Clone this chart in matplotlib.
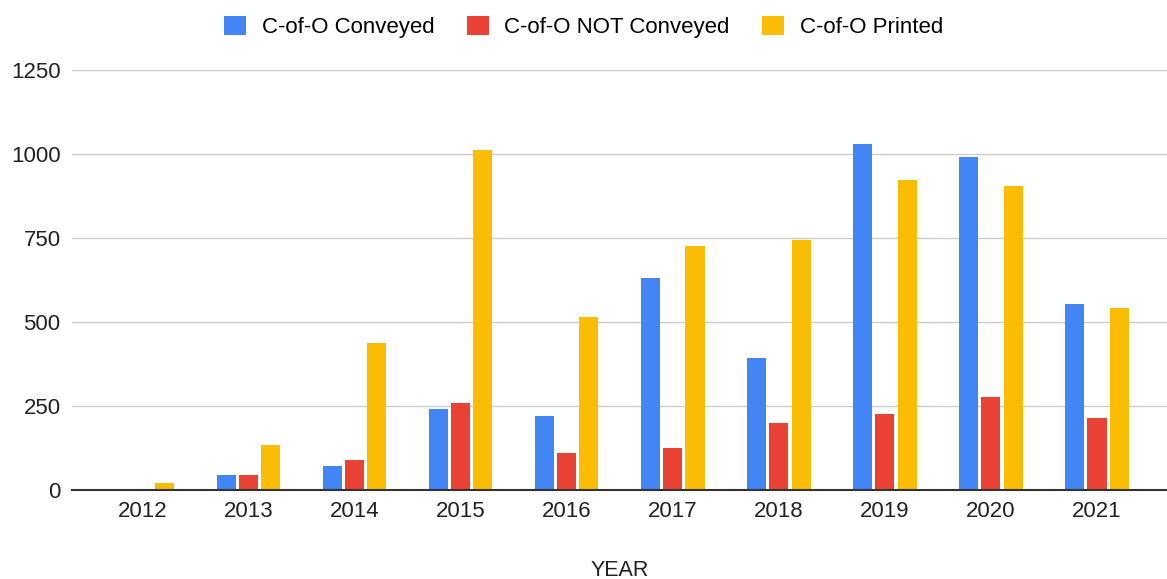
import matplotlib
matplotlib.use("Agg")
import matplotlib.pyplot as plt
import numpy as np

years = ["2012", "2013", "2014", "2015", "2016", "2017", "2018", "2019", "2020", "2021"]
conveyed = [0, 44, 72, 242, 219, 632, 392, 1029, 990, 554]
not_conveyed = [0, 44, 89, 258, 109, 124, 198, 225, 276, 214]
printed = [22, 134, 437, 1011, 515, 726, 744, 922, 906, 542]
series_names = ["C-of-O Conveyed", "C-of-O NOT Conveyed", "C-of-O Printed"]
colors = ["#4285F4", "#EA4335", "#FBBC04"]
yticks = [0, 250, 500, 750, 1000, 1250]

plt.rcParams['font.family'] = ['Liberation Sans', 'DejaVu Sans']

fig = plt.figure(figsize=(11.67, 5.79), dpi=100)
ax = fig.add_axes([0.062, 0.1537, 0.938, 0.7254])

x = np.arange(len(years))
w = 0.18
off = 0.21
for i, (vals, name, c) in enumerate(zip([conveyed, not_conveyed, printed], series_names, colors)):
    ax.bar(x + (i - 1) * off, vals, width=w, color=c, label=name, zorder=3)

ax.set_xlim(-0.66, 9.66)
ax.set_ylim(0, 1250)
ax.set_yticks(yticks)
ax.set_yticklabels([str(v) for v in yticks], fontsize=16, color="#222222")
ax.set_xticks(x)
ax.set_xticklabels(years, fontsize=16, color="#222222")
ax.tick_params(axis='both', length=0)
ax.tick_params(axis='y', pad=8.5)
ax.tick_params(axis='x', pad=8)
ax.yaxis.grid(True, color="#cccccc", linewidth=1, zorder=0)
for s in ["top", "right", "left"]:
    ax.spines[s].set_visible(False)
ax.spines["bottom"].set_color("#333333")
ax.spines["bottom"].set_linewidth(1.5)
ax.spines["bottom"].set_zorder(4)

ax.set_xlabel("YEAR", fontsize=15.5, color="#222222", labelpad=27)

leg = fig.legend(loc="upper center", bbox_to_anchor=(0.5, 1.0), ncol=3, frameon=False,
                 fontsize=16, handlelength=1.0, handleheight=1.0, columnspacing=1.45,
                 handletextpad=0.7, borderaxespad=0.3)

fig.savefig("out.png", dpi=100)
